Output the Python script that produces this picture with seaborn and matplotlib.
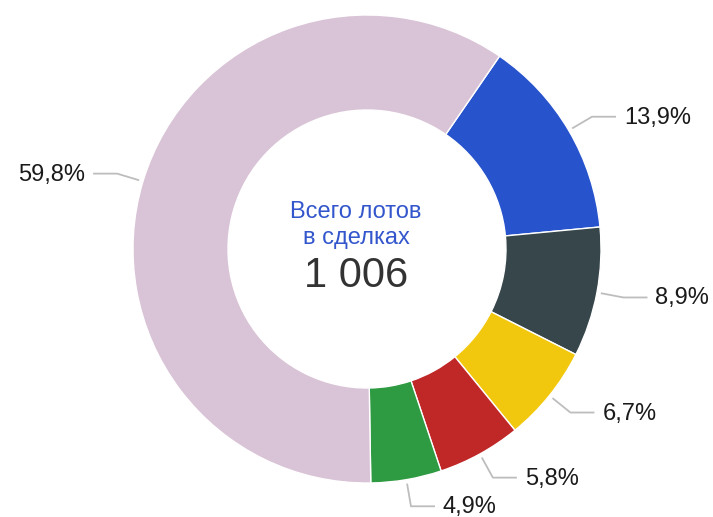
import numpy as np
import matplotlib
matplotlib.use("Agg")
import matplotlib.pyplot as plt
import seaborn as sns

# lots per category (clockwise from the blue slice)
lots = [140, 90, 67, 58, 49, 602]
colors = ['#2753CC', '#36464A', '#F2C80F', '#C02727', '#2E9A41', '#D9C3D6']
center_title = "Всего лотов\nв сделках"
total = sum(lots)

sns.set_theme(style="white")
plt.rcParams['font.family'] = ['Liberation Sans', 'DejaVu Sans']

W, H = 713, 517
fig = plt.figure(figsize=(W / 100, H / 100), dpi=100)
ax = fig.add_axes([0, 0, 1, 1])

cx, cy = 367, H - 249
R, ring = 234, 95
start = 34.5  # degrees clockwise from 12 o'clock

ax.pie(lots, colors=colors, startangle=90 - start, counterclock=False,
       radius=R, center=(cx, cy),
       wedgeprops=dict(width=ring, edgecolor='white', linewidth=1))

# leader lines and labels
cum = start
for v in lots:
    span = v / total * 360
    mid = np.deg2rad(cum + span / 2)
    cum += span
    s, c = np.sin(mid), np.cos(mid)
    x0, y0 = cx + (R + 4) * s, cy + (R + 4) * c
    x1, y1 = cx + (R + 27) * s, cy + (R + 27) * c
    side = 1 if s >= 0 else -1
    x2 = x1 + side * 24
    ax.plot([x0, x1, x2], [y0, y1, y1], color='#BDBDBD', lw=1.3,
            solid_capstyle='butt')
    pct = f"{v / total * 100:.1f}%".replace('.', ',')
    ax.text(x2 + side * 8, y1 - 1, pct, ha='left' if side > 0 else 'right',
            va='center', fontsize=17, color='#1a1a1a')

ax.text(356, H - 225, center_title, ha='center', va='center',
        fontsize=17, color='#3356CC', linespacing=1.25)
ax.text(356, H - 276, f"{total:,}".replace(',', ' '), ha='center',
        va='center', fontsize=30, color='#333333')

ax.set_xlim(0, W)
ax.set_ylim(0, H)
ax.set_aspect('equal')
ax.axis('off')

fig.savefig('out.png', dpi=100, facecolor='white')
